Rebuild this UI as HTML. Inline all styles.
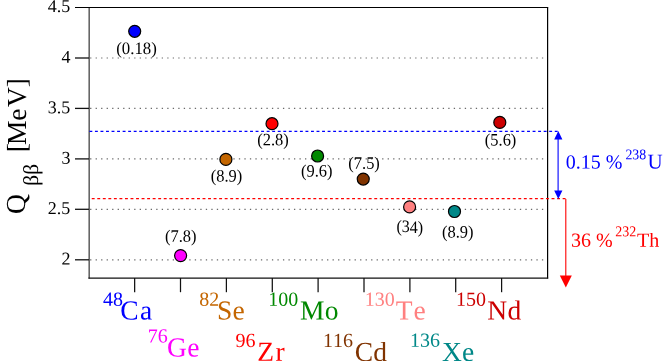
<!DOCTYPE html>
<html><head><meta charset="utf-8">
<style>
html,body{margin:0;padding:0;background:#fff;}
body{width:664px;height:361px;overflow:hidden;}
svg{display:block;will-change:transform;}
text{font-family:"Liberation Serif",serif;text-rendering:geometricPrecision;font-kerning:none;}
</style></head><body>
<svg width="664" height="361" viewBox="0 0 664 361">
<rect width="664" height="361" fill="#fff"/>
<g stroke="#6a6a6a" stroke-width="1.15" stroke-dasharray="1.3 4.21" fill="none">
<line x1="90.1" y1="58.0" x2="547" y2="58.0"/>
<line x1="90.1" y1="108.4" x2="547" y2="108.4"/>
<line x1="90.1" y1="158.9" x2="547" y2="158.9"/>
<line x1="90.1" y1="209.3" x2="547" y2="209.3"/>
<line x1="90.1" y1="259.8" x2="547" y2="259.8"/>
</g>
<line x1="75" y1="7.5" x2="548.2" y2="7.5" stroke="#000" stroke-width="1.2"/>
<line x1="547.6" y1="7.5" x2="547.6" y2="278.5" stroke="#000" stroke-width="1.2"/>
<line x1="89.2" y1="8" x2="89.2" y2="278.5" stroke="#666" stroke-width="1.6"/>
<line x1="88.4" y1="278.15" x2="548.2" y2="278.15" stroke="#111" stroke-width="1.3"/>
<g stroke="#111" stroke-width="1.3">
<line x1="75" y1="58.0" x2="89" y2="58.0"/>
<line x1="75" y1="108.4" x2="89" y2="108.4"/>
<line x1="75" y1="158.9" x2="89" y2="158.9"/>
<line x1="75" y1="209.3" x2="89" y2="209.3"/>
<line x1="75" y1="259.8" x2="89" y2="259.8"/>
</g>
<g stroke="#111" stroke-width="1.25">
<line x1="134.65" y1="278" x2="134.65" y2="292.2"/>
<line x1="180.5" y1="278" x2="180.5" y2="292.2"/>
<line x1="226.4" y1="278" x2="226.4" y2="292.2"/>
<line x1="272.3" y1="278" x2="272.3" y2="292.2"/>
<line x1="318.1" y1="278" x2="318.1" y2="292.2"/>
<line x1="364" y1="278" x2="364" y2="292.2"/>
<line x1="409.9" y1="278" x2="409.9" y2="292.2"/>
<line x1="455.7" y1="278" x2="455.7" y2="292.2"/>
<line x1="501.6" y1="278" x2="501.6" y2="292.2"/>
</g>
<g font-size="18" fill="#000">
<text transform="translate(70.2 12.0) rotate(0.03)" text-anchor="end">4.5</text>
<text transform="translate(70.6 62.8) rotate(0.03)" text-anchor="end">4</text>
<text transform="translate(70.2 113.2) rotate(0.03)" text-anchor="end">3.5</text>
<text transform="translate(70.6 163.8) rotate(0.03)" text-anchor="end">3</text>
<text transform="translate(70.2 214.1) rotate(0.03)" text-anchor="end">2.5</text>
<text transform="translate(70.6 264.6) rotate(0.03)" text-anchor="end">2</text>
</g>
<line x1="89.4" y1="131.4" x2="559" y2="131.4" stroke="#00f" stroke-width="1.25" stroke-dasharray="2.9 2.64"/>
<line x1="89.4" y1="198.7" x2="566" y2="198.7" stroke="#f00" stroke-width="1.25" stroke-dasharray="2.9 2.64" stroke-dashoffset="3.2"/>
<line x1="558.1" y1="138" x2="558.1" y2="192" stroke="#00f" stroke-width="1.1"/>
<polygon points="558.3,131 554.2,139.4 562.4,139.4" fill="#00f"/>
<polygon points="558.3,199 554.2,190.6 562.4,190.6" fill="#00f"/>
<line x1="565.8" y1="199" x2="565.8" y2="277" stroke="#f00" stroke-width="1.1"/>
<polygon points="565.8,287.4 559.8,275.4 571.8,275.4" fill="#f00"/>
<g stroke="#000" stroke-width="1.2">
<circle cx="134.7" cy="31.3" r="6.0" fill="#0000ff"/>
<circle cx="180.6" cy="255.6" r="6.0" fill="#ff00ff"/>
<circle cx="225.9" cy="159.4" r="6.0" fill="#c46600"/>
<circle cx="272" cy="123.7" r="6.0" fill="#ff0000"/>
<circle cx="317.6" cy="156" r="6.0" fill="#008800"/>
<circle cx="363.25" cy="179.05" r="6.0" fill="#803300"/>
<circle cx="409.6" cy="206.9" r="6.0" fill="#ff8080"/>
<circle cx="454.5" cy="211.5" r="6.0" fill="#008888"/>
<circle cx="499.8" cy="122.4" r="6.0" fill="#cc0000"/>
</g>
<g font-size="17.4" fill="#000">
<text transform="translate(136.5 54.0) rotate(0.03)" text-anchor="middle" textLength="40.6" lengthAdjust="spacingAndGlyphs">(0.18)</text>
<text transform="translate(180.7 241.75) rotate(0.03)" text-anchor="middle" textLength="31.5" lengthAdjust="spacingAndGlyphs">(7.8)</text>
<text transform="translate(226.5 181.5) rotate(0.03)" text-anchor="middle" textLength="31.5" lengthAdjust="spacingAndGlyphs">(8.9)</text>
<text transform="translate(273 145.35) rotate(0.03)" text-anchor="middle" textLength="31.5" lengthAdjust="spacingAndGlyphs">(2.8)</text>
<text transform="translate(316.7 176.5) rotate(0.03)" text-anchor="middle" textLength="31.5" lengthAdjust="spacingAndGlyphs">(9.6)</text>
<text transform="translate(364.1 168.8) rotate(0.03)" text-anchor="middle" textLength="31.5" lengthAdjust="spacingAndGlyphs">(7.5)</text>
<text transform="translate(409.75 232.5) rotate(0.03)" text-anchor="middle" textLength="26.7" lengthAdjust="spacingAndGlyphs">(34)</text>
<text transform="translate(457.75 237.4) rotate(0.03)" text-anchor="middle" textLength="31.5" lengthAdjust="spacingAndGlyphs">(8.9)</text>
<text transform="translate(500.6 145.6) rotate(0.03)" text-anchor="middle" textLength="31.5" lengthAdjust="spacingAndGlyphs">(5.6)</text>
</g>
<g font-size="20" class="isup">
<text transform="translate(102.9 305.8) rotate(0.03)" fill="#0000ff">48</text>
<text transform="translate(147.7 342.4) rotate(0.03)" fill="#ff00ff">76</text>
<text transform="translate(199.3 305.8) rotate(0.03)" fill="#c46600">82</text>
<text transform="translate(235.5 347.1) rotate(0.03)" fill="#ff0000">96</text>
<text transform="translate(268.3 305.8) rotate(0.03)" fill="#008800">100</text>
<text transform="translate(323.1 346.9) rotate(0.03)" fill="#803300">116</text>
<text transform="translate(364.7 305.8) rotate(0.03)" fill="#ff8080">130</text>
<text transform="translate(410.05 346.8) rotate(0.03)" fill="#008888">136</text>
<text transform="translate(455.95 305.8) rotate(0.03)" fill="#cc0000">150</text>
</g>
<g font-size="27.5" class="imain" letter-spacing="0.3">
<text transform="translate(120.2 319.45) rotate(0.03)" x="0.00 19.70" fill="#0000ff">Ca</text>
<text transform="translate(167.1 356.5) rotate(0.03)" fill="#ff00ff">Ge</text>
<text transform="translate(217 319.45) rotate(0.03)" fill="#c46600">Se</text>
<text transform="translate(257.3 360.7) rotate(0.03)" x="0.00 18.30" fill="#ff0000">Zr</text>
<text transform="translate(299.9 319.45) rotate(0.03)" fill="#008800">Mo</text>
<text transform="translate(354.7 360.9) rotate(0.03)" fill="#803300">Cd</text>
<text transform="translate(395.8 319.55) rotate(0.03)" x="0.00 17.70" fill="#ff8080">Te</text>
<text transform="translate(441.9 360.9) rotate(0.03)" fill="#008888">Xe</text>
<text transform="translate(487.3 319.45) rotate(0.03)" fill="#cc0000">Nd</text>
</g>
<g font-size="20" fill="#0000ff">
<text transform="translate(565.8 168.4) rotate(0.03)">0.15 %</text>
<text transform="translate(625.4 159.3) rotate(0.03)" font-size="14.8" textLength="20.8" lengthAdjust="spacingAndGlyphs">238</text>
<text transform="translate(647.5 168.4) rotate(0.03)" font-size="21">U</text>
</g>
<g font-size="20" fill="#ff0000">
<text transform="translate(571 246.7) rotate(0.03)">36 %</text>
<text transform="translate(615.3 236.2) rotate(0.03)" font-size="15" textLength="21" lengthAdjust="spacingAndGlyphs">232</text>
<text transform="translate(637 246.7) rotate(0.03)">Th</text>
</g>
<g transform="translate(25.5,212) rotate(-90)" fill="#000">
<text x="-1.9" y="-0.8" font-size="27.5">Q</text>
<text x="26.3" y="12.2" font-size="21.3">ββ</text>
<text y="0" font-size="27.5" x="59.8 67.1 91.3 104.9 124.8">[MeV]</text>
</g>
</svg>
</body></html>
